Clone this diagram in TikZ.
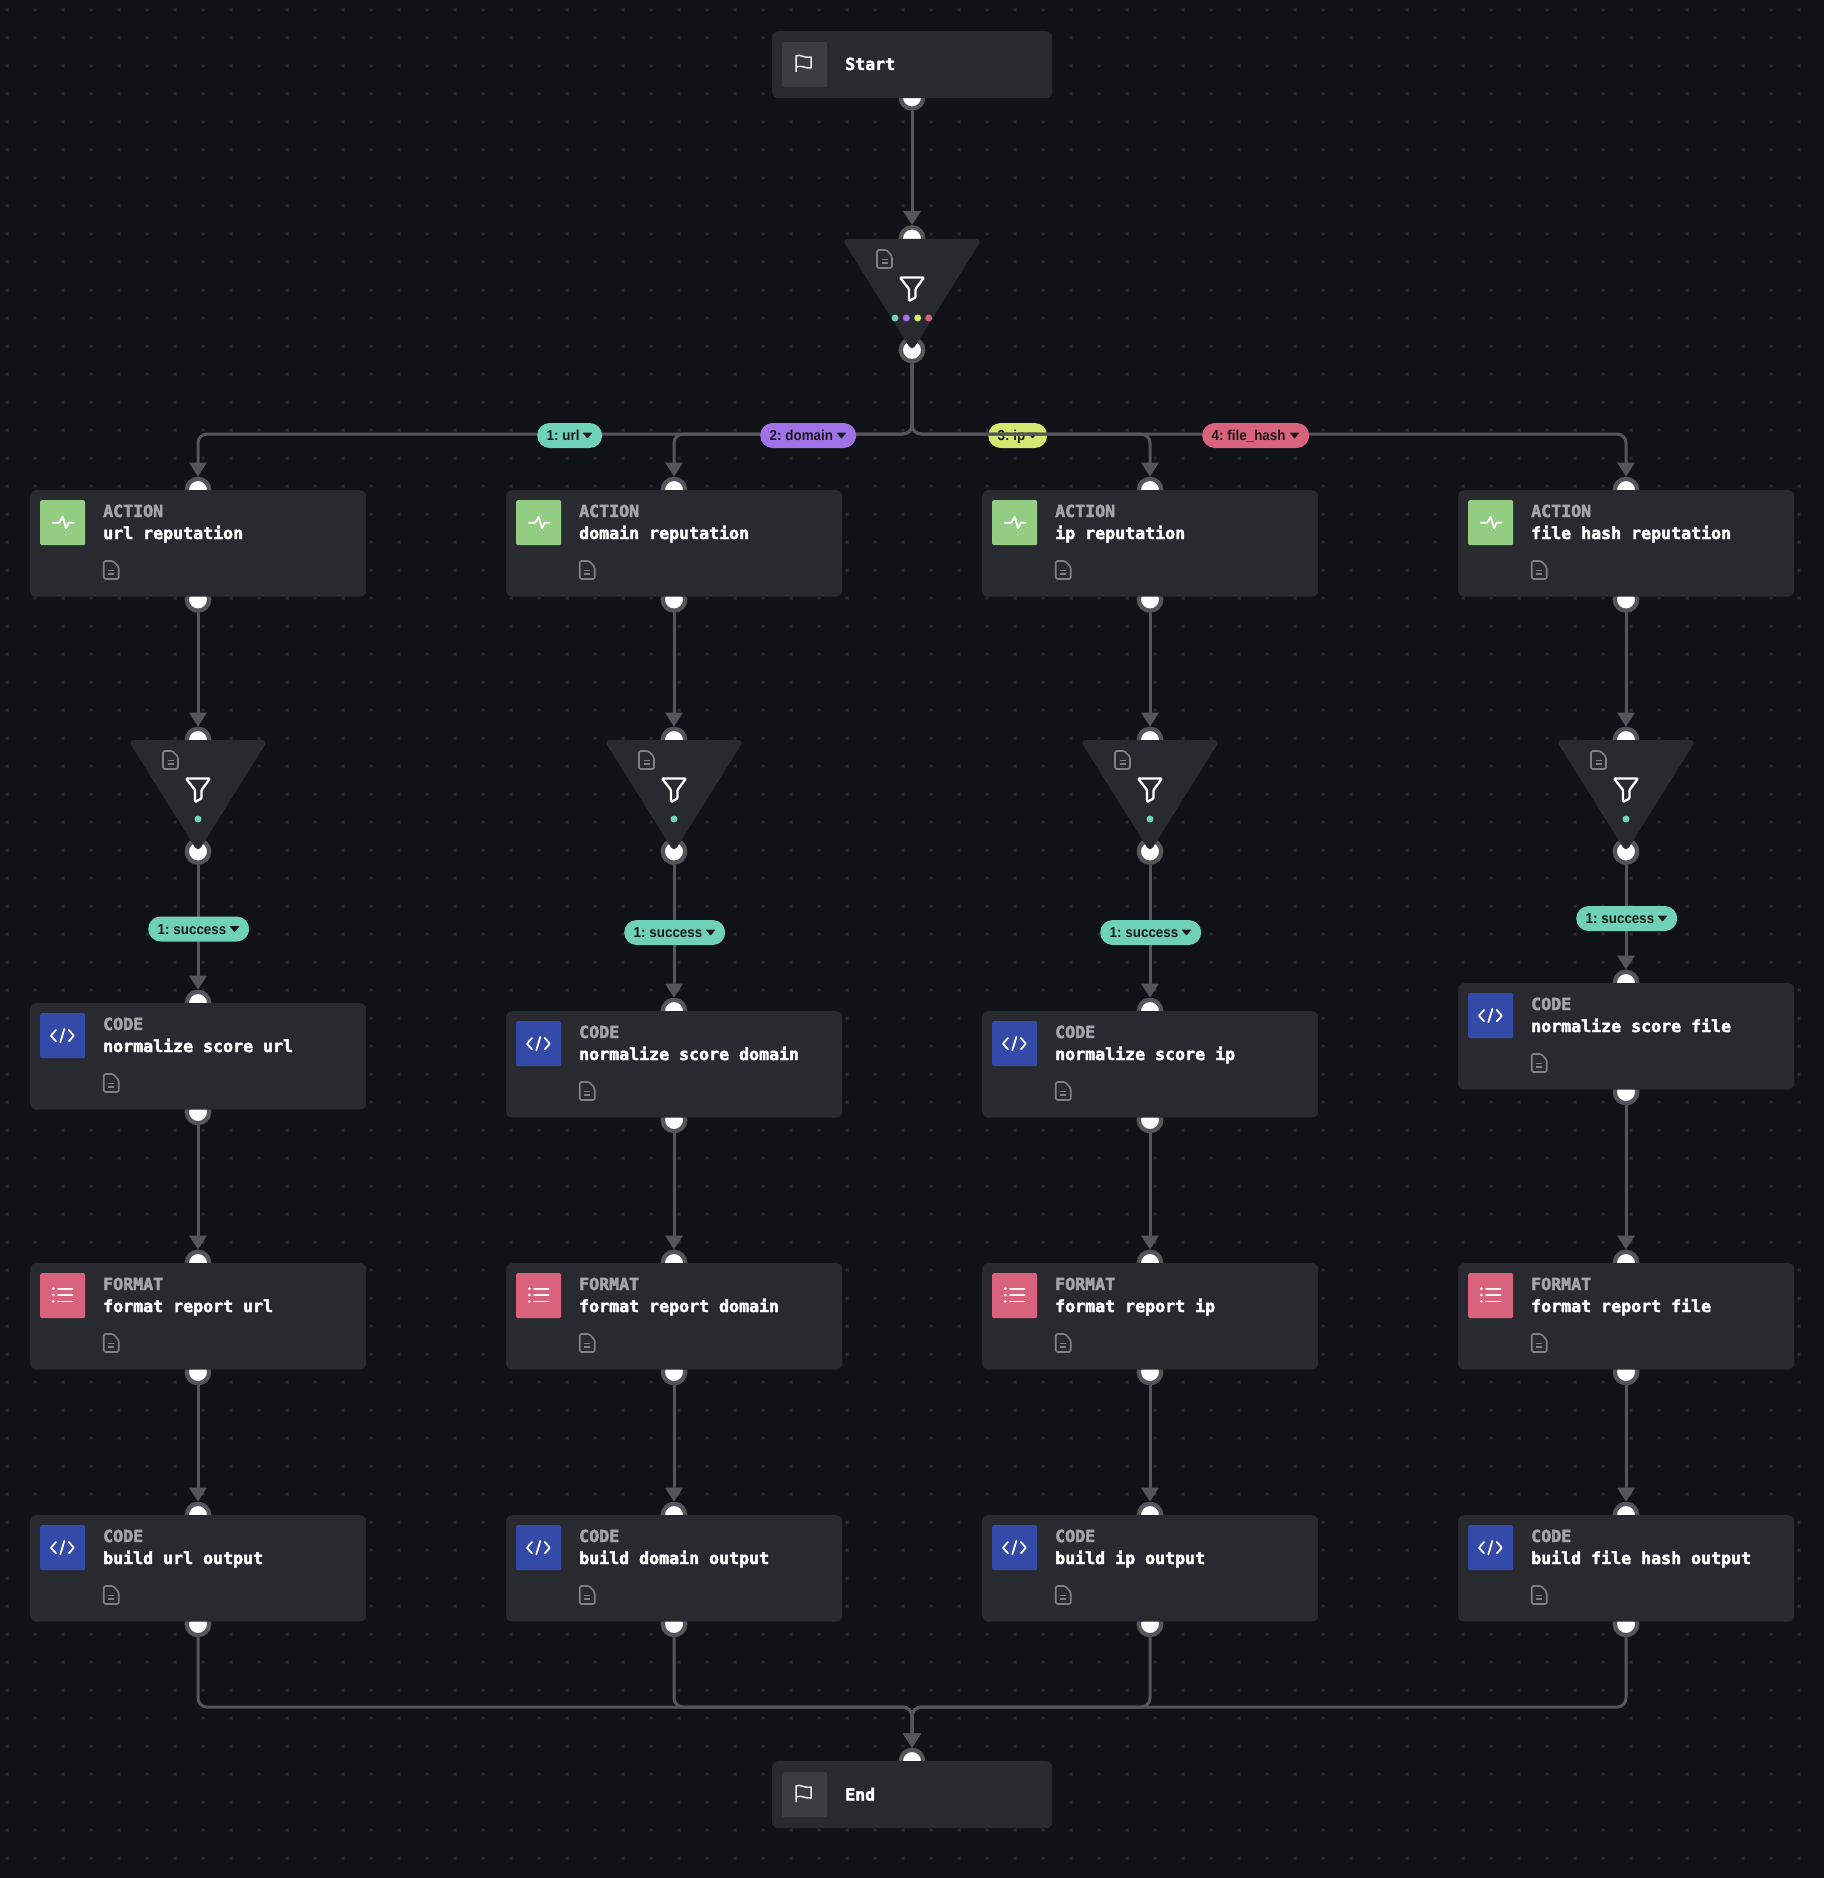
\documentclass[tikz,border=0pt]{standalone}
\usepackage{fontspec}
\usetikzlibrary{arrows.meta}
\newfontfamily\monofnt{DejaVu Sans Mono}[BoldFont={DejaVu Sans Mono Bold}]
\newfontfamily\pillfnt{Liberation Sans}[BoldFont={Liberation Sans Bold},FakeStretch=0.93,WordSpace=0.7]
\newcommand{\heavy}[1]{\special{pdf:code q 2 Tr 0.45 w}#1\special{pdf:code Q}}
\definecolor{bgc}{HTML}{101217}
\definecolor{dotc}{HTML}{2C2D32}
\definecolor{boxc}{HTML}{292A2F}
\definecolor{ringc}{HTML}{55565B}
\definecolor{flagc}{HTML}{3C3D42}
\definecolor{kindc}{HTML}{A5A5A7}
\definecolor{docc}{HTML}{808185}
\definecolor{tealc}{HTML}{6ED1B8}
\definecolor{purpc}{HTML}{9F72E8}
\definecolor{limec}{HTML}{D2E96F}
\definecolor{redc}{HTML}{D9627C}
\definecolor{greenc}{HTML}{93CC83}
\definecolor{bluec}{HTML}{344AA8}
\tikzset{
  x=1pt,y=-1pt,
  port/.style={circle,fill=white,draw=ringc,line width=4.3pt,minimum size=22.4pt,inner sep=0pt},
  conn/.style={draw=ringc,line width=3pt,rounded corners=9pt,-{Triangle[length=14pt,width=17pt]}},
  card/.style={fill=boxc,rounded corners=6pt,inner sep=0pt,anchor=north west,minimum width=336pt,minimum height=106.5pt},
  endcard/.style={fill=boxc,rounded corners=6pt,inner sep=0pt,anchor=north west,minimum width=280pt,minimum height=67pt},
  iconbox/.style={rounded corners=1.5pt,inner sep=0pt,anchor=north west,minimum size=45pt},
  kindtext/.style={anchor=base west,inner sep=0pt,text=kindc,font=\monofnt\bfseries\fontsize{16.6}{20}\selectfont},
  titletext/.style={anchor=base west,inner sep=0pt,text=white,font=\monofnt\bfseries\fontsize{16.6}{20}\selectfont},
  pilltext/.style={anchor=base west,inner sep=0pt,text=black!90,font=\pillfnt\bfseries\fontsize{14.4}{18}\selectfont},
  docicon/.pic={
    \draw[docc,line width=1.6pt,line join=round,rounded corners=1.5pt] (0,0) -- (9.5,0) -- (15,6) -- (15,18) -- (0,18) -- cycle;
    \draw[docc,line width=1.5pt] (4.5,9.5) -- (10.5,9.5) (4.5,13) -- (10.5,13);
  },
  funnel/.pic={
    \draw[white,line width=2.3pt,line join=round,rounded corners=1pt] (-12,0) -- (12,0) -- (3.5,11.5) -- (3.5,20) -- (-3,23.5) -- (-3,11.5) -- cycle;
  },
  flagicon/.pic={
    \draw[white!92!black,line width=1.5pt,line join=round] (14,30) -- (14,14) .. controls (18,11.5) and (21,16.5) .. (29,15) -- (29,26) .. controls (24,27) and (19,22.5) .. (14,25);
  },
  pulseicon/.pic={
    \draw[white,line width=1.8pt,line join=round,line cap=round] (12.7,22.7) -- (19.3,22.7) -- (22.7,16.7) -- (26,28.3) -- (28.7,22.7) -- (33.3,22.7);
  },
  codeicon/.pic={
    \draw[white,line width=1.8pt,line join=round,line cap=round] (16,17) -- (11,22.7) -- (16,28.3) (24.3,16) -- (20.3,29.3) (28.8,17) -- (33.8,22.7) -- (28.8,28.3);
  },
  listicon/.pic={
    \fill[white!92!redc] (13.3,15.7) circle (1.5) (13.3,22) circle (1.5) (13.3,28.3) circle (1.5);
    \draw[white!92!redc,line width=1.6pt,line cap=round] (18,15.7) -- (32.7,15.7) (18,22) -- (32.7,22) (18,28.3) -- (32.7,28.3);
  },
}
% id, left x, top y, colour, pic, kind, title
\newcommand{\taskcard}[7]{%
  \node[card] (#1-box) at (#2,#3) {};
  \node[iconbox,fill=#4] (#1-icon) at (#2+10,#3+10) {};
  \pic at (#2+10,#3+10) {#5};
  \node[kindtext] (#1-kind) at (#2+73,#3+27) {\heavy{#6}};
  \node[titletext] (#1-title) at (#2+73,#3+49) {\heavy{#7}};
  \pic at (#2+73.7,#3+71) {docicon};
}
% centre x, top y
\newcommand{\filtershape}[2]{%
  \fill[boxc,rounded corners=6pt] (#1-70,#2) -- (#1+70,#2) -- (#1,#2+112) -- cycle;
  \pic at (#1-35,#2+11) {docicon};
  \pic at (#1,#2+38.5) {funnel};
}
% id, x1, x2, centre y, colour, text
\newcommand{\pillnode}[6]{%
  \node[fill=#5,rounded corners=12.5pt,inner sep=0pt,anchor=west,minimum height=25pt,minimum width=#3pt-#2pt] (#1) at (#2,#4) {};
  \node[pilltext] (#1-text) at (#2+9.5,#4+5.2) {#6};
  \fill[black!90,rounded corners=.6pt] (#3-19.5,#4-3) -- (#3-9.5,#4-3) -- (#3-14.5,#4+3.2) -- cycle;
}
\begin{document}
\begin{tikzpicture}
\useasboundingbox (0,0) rectangle (1824,1878);
\fill[bgc] (0,0) rectangle (1824,1878);
\fill[dotc] \foreach \i in {0,...,65}{\foreach \j in {0,...,66}{ (5.5+28*\i,8.5+28*\j) rectangle ++(3,3) }};

% ports
\node[port] (start-out) at (912,97.5) {};
\node[port] (f0-in) at (912,238.5) {};
\node[port] (f0-out) at (912,350) {};
\node[port] (end-in) at (912,1761) {};
\foreach \c/\cx/\ct in {1/198/1003,2/674/1011,3/1150/1011,4/1626/983}{
  \node[port] (a\c-in) at (\cx,490) {};
  \node[port] (a\c-out) at (\cx,599.5) {};
  \node[port] (f\c-in) at (\cx,740) {};
  \node[port] (f\c-out) at (\cx,851.5) {};
  \node[port] (c\c-in) at (\cx,\ct) {};
  \node[port] (c\c-out) at (\cx,\ct+109) {};
  \node[port] (r\c-in) at (\cx,1263) {};
  \node[port] (r\c-out) at (\cx,1372) {};
  \node[port] (o\c-in) at (\cx,1515) {};
  \node[port] (o\c-out) at (\cx,1624) {};
  \coordinate (bus\c) at (\cx,434);
  \coordinate (sink\c) at (\cx,1707);
}
\coordinate (bus0) at (912,434);
\coordinate (sink0) at (912,1707);

% pill behind the line
\pillnode{p3}{988}{1047}{435.5}{limec}{3: ip}

% connectors
\draw[conn] (start-out.south) -- (f0-in.north);
\foreach \c in {1,2,3,4}{
  \draw[conn] (f0-out.south) -- (bus0) -- (bus\c) -- (a\c-in.north);
  \draw[conn] (a\c-out.south) -- (f\c-in.north);
  \draw[conn] (f\c-out.south) -- (c\c-in.north);
  \draw[conn] (c\c-out.south) -- (r\c-in.north);
  \draw[conn] (r\c-out.south) -- (o\c-in.north);
  \draw[conn] (o\c-out.south) -- (sink\c) -- (sink0) -- (end-in.north);
}

% pills
\pillnode{p1}{537}{602}{435.5}{tealc}{1: url}
\pillnode{p2}{760}{856}{435.5}{purpc}{2: domain}
\pillnode{p4}{1202}{1309}{435.5}{redc}{4: file\_hash}
\pillnode{s1}{148}{249}{929}{tealc}{1: success}
\pillnode{s2}{624}{725}{932.5}{tealc}{1: success}
\pillnode{s3}{1100}{1201}{932.5}{tealc}{1: success}
\pillnode{s4}{1576}{1677}{918.5}{tealc}{1: success}

% start and end
\node[endcard] (start) at (772,31) {};
\node[iconbox,fill=flagc] (start-icon) at (782,42) {};
\pic at (782,42) {flagicon};
\node[titletext] (start-text) at (845,70) {\heavy{Start}};
\node[endcard] (end) at (772,1761) {};
\node[iconbox,fill=flagc] (end-icon) at (782,1772) {};
\pic at (782,1772) {flagicon};
\node[titletext] (end-text) at (845,1800.5) {\heavy{End}};

% filters
\filtershape{912}{239}
\fill[tealc] (895,318) circle (3.5);
\fill[purpc] (906.3,318) circle (3.5);
\fill[limec] (917.7,318) circle (3.5);
\fill[redc] (928.7,318) circle (3.5);
\foreach \cx in {198,674,1150,1626}{
  \filtershape{\cx}{740}
  \fill[tealc] (\cx,819) circle (3.5);
}

% cards
\taskcard{a1}{30}{490}{greenc}{pulseicon}{ACTION}{url reputation}
\taskcard{a2}{506}{490}{greenc}{pulseicon}{ACTION}{domain reputation}
\taskcard{a3}{982}{490}{greenc}{pulseicon}{ACTION}{ip reputation}
\taskcard{a4}{1458}{490}{greenc}{pulseicon}{ACTION}{file hash reputation}
\taskcard{c1}{30}{1003}{bluec}{codeicon}{CODE}{normalize score url}
\taskcard{c2}{506}{1011}{bluec}{codeicon}{CODE}{normalize score domain}
\taskcard{c3}{982}{1011}{bluec}{codeicon}{CODE}{normalize score ip}
\taskcard{c4}{1458}{983}{bluec}{codeicon}{CODE}{normalize score file}
\taskcard{r1}{30}{1263}{redc}{listicon}{FORMAT}{format report url}
\taskcard{r2}{506}{1263}{redc}{listicon}{FORMAT}{format report domain}
\taskcard{r3}{982}{1263}{redc}{listicon}{FORMAT}{format report ip}
\taskcard{r4}{1458}{1263}{redc}{listicon}{FORMAT}{format report file}
\taskcard{o1}{30}{1515}{bluec}{codeicon}{CODE}{build url output}
\taskcard{o2}{506}{1515}{bluec}{codeicon}{CODE}{build domain output}
\taskcard{o3}{982}{1515}{bluec}{codeicon}{CODE}{build ip output}
\taskcard{o4}{1458}{1515}{bluec}{codeicon}{CODE}{build file hash output}
\end{tikzpicture}
\end{document}
